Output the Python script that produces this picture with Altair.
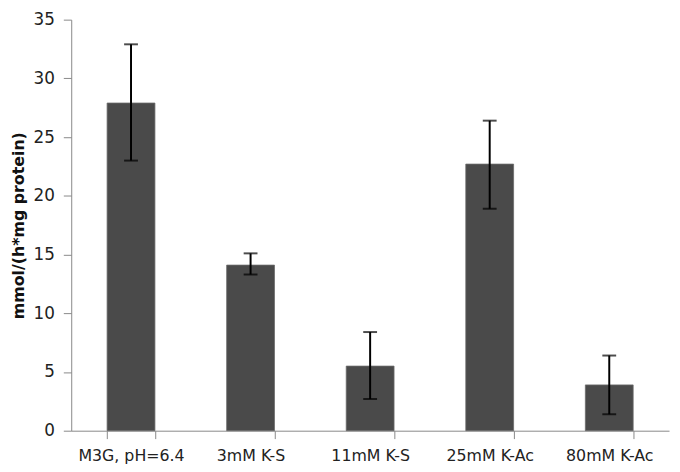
import altair as alt
import pandas as pd

categories = ["M3G, pH=6.4", "3mM K-S", "11mM K-S", "25mM K-Ac", "80mM K-Ac"]
means = [27.9, 14.1, 5.5, 22.7, 3.9]
lows = [23.0, 13.3, 2.7, 18.9, 1.4]
highs = [32.9, 15.1, 8.4, 26.4, 6.4]

df = pd.DataFrame({"cat": categories, "mean": means, "lo": lows, "hi": highs})

FONT = "DejaVu Sans"

x = alt.X("cat:N", sort=categories, title=None,
          scale=alt.Scale(paddingInner=0.6, paddingOuter=0.3),
          axis=alt.Axis(labelAngle=0, tickBand="extent", labelPadding=9))
y = alt.Y("mean:Q", title="mmol/(h*mg protein)",
          scale=alt.Scale(domain=[0, 35], nice=False),
          axis=alt.Axis(values=list(range(0, 36, 5)), labelPadding=9,
                        titlePadding=7))

bars = alt.Chart(df).mark_bar(color="#4a4a4a", stroke="#6a6a6a", strokeWidth=0.8).encode(x=x, y=y)
rules = alt.Chart(df).mark_rule(color="black", strokeWidth=2).encode(
    x=alt.X("cat:N", sort=categories), y="lo:Q", y2="hi:Q")
caps_hi = alt.Chart(df).mark_tick(color="black", thickness=2, size=14).encode(
    x=alt.X("cat:N", sort=categories), y="hi:Q")
caps_lo = alt.Chart(df).mark_tick(color="black", thickness=2, size=14).encode(
    x=alt.X("cat:N", sort=categories), y="lo:Q")

chart = alt.layer(bars, rules, caps_hi, caps_lo).properties(
    width=605, height=416,
    background="white",
    autosize=alt.AutoSizeParams(type="none"),
    padding={"left": 64, "top": 9, "right": 3, "bottom": 39},
).configure_view(stroke=None).configure_axis(
    grid=False, labelFont=FONT, labelFontSize=17, labelColor="#222",
    labelLimit=200, tickSize=8, tickColor="#888", domainColor="#888",
    titleFont=FONT, titleFontSize=16, titleFontWeight="bold", titleColor="#111",
).configure_axisX(labelFontSize=16)

chart.save("out.html", embed_options={"renderer": "svg", "actions": False})
